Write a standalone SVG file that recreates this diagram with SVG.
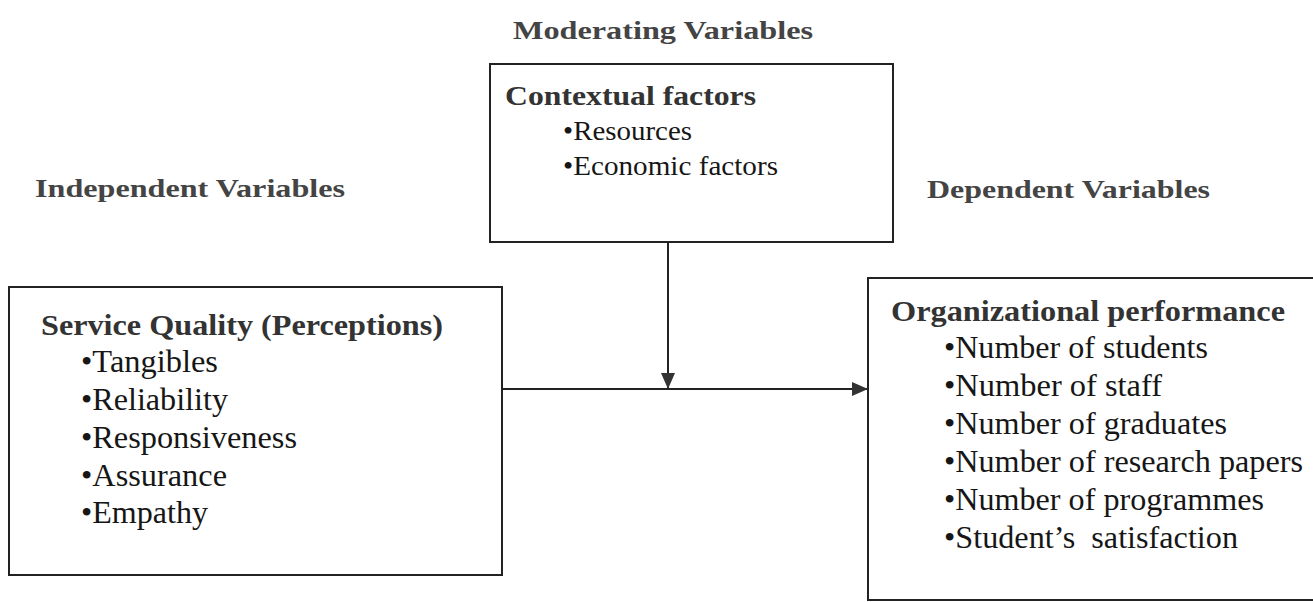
<svg xmlns="http://www.w3.org/2000/svg" width="1313" height="602" viewBox="0 0 1313 602">
  <style>
    .bg { fill: #ffffff; }
    .box { fill: none; stroke: #222; stroke-width: 2; }
    .head { font-family: "Liberation Serif", "Times New Roman", serif; font-weight: bold; fill: #444; font-size: 25px; }
    .title { font-family: "Liberation Serif", "Times New Roman", serif; font-weight: bold; fill: #333; font-size: 30px; }
    .title-s { font-family: "Liberation Serif", "Times New Roman", serif; font-weight: bold; fill: #333; font-size: 28px; }
    .item { font-family: "Liberation Serif", "Times New Roman", serif; fill: #161616; font-size: 31px; }
    .item-s { font-family: "Liberation Serif", "Times New Roman", serif; fill: #161616; font-size: 28px; }
    .conn { fill: none; stroke: #222; stroke-width: 2; }
  </style>
  <defs>
    <marker id="arrow" markerUnits="userSpaceOnUse" markerWidth="16" markerHeight="14" viewBox="0 0 16 14" refX="16" refY="7" orient="auto">
      <path d="M0,0 L16,7 L0,14 z" fill="#333"/>
    </marker>
  </defs>
  <rect class="bg" x="0" y="0" width="1313" height="602"/>

  <g id="heading-moderating">
    <text class="head" x="513" y="39" textLength="300" lengthAdjust="spacingAndGlyphs">Moderating Variables</text>
  </g>
  <g id="heading-independent">
    <text class="head" x="35" y="197" textLength="310" lengthAdjust="spacingAndGlyphs">Independent Variables</text>
  </g>
  <g id="heading-dependent">
    <text class="head" x="927" y="198" textLength="283" lengthAdjust="spacingAndGlyphs">Dependent Variables</text>
  </g>

  <g id="node-contextual">
    <rect class="box" x="490" y="64" width="403" height="178"/>
    <text class="title-s" x="505" y="105" textLength="251" lengthAdjust="spacingAndGlyphs">Contextual factors</text>
    <text class="item-s" x="563" y="140" textLength="129" lengthAdjust="spacingAndGlyphs">•Resources</text>
    <text class="item-s" x="563" y="175" textLength="215" lengthAdjust="spacingAndGlyphs">•Economic factors</text>
  </g>

  <g id="node-service-quality">
    <rect class="box" x="9" y="287" width="493" height="288"/>
    <text class="title" x="41" y="335" textLength="402" lengthAdjust="spacingAndGlyphs">Service Quality (Perceptions)</text>
    <text class="item" x="81" y="372" textLength="137" lengthAdjust="spacingAndGlyphs">•Tangibles</text>
    <text class="item" x="81" y="410" textLength="147" lengthAdjust="spacingAndGlyphs">•Reliability</text>
    <text class="item" x="81" y="448" textLength="216" lengthAdjust="spacingAndGlyphs">•Responsiveness</text>
    <text class="item" x="81" y="486" textLength="146" lengthAdjust="spacingAndGlyphs">•Assurance</text>
    <text class="item" x="81" y="523" textLength="127" lengthAdjust="spacingAndGlyphs">•Empathy</text>
  </g>

  <g id="node-organizational-performance">
    <rect class="box" x="868" y="278" width="460" height="322"/>
    <text class="title" x="891" y="321" textLength="394" lengthAdjust="spacingAndGlyphs">Organizational performance</text>
    <text class="item" x="944" y="358" textLength="264" lengthAdjust="spacingAndGlyphs">•Number of students</text>
    <text class="item" x="944" y="396" textLength="218" lengthAdjust="spacingAndGlyphs">•Number of staff</text>
    <text class="item" x="944" y="434" textLength="283" lengthAdjust="spacingAndGlyphs">•Number of graduates</text>
    <text class="item" x="944" y="472" textLength="359" lengthAdjust="spacingAndGlyphs">•Number of research papers</text>
    <text class="item" x="944" y="510" textLength="320" lengthAdjust="spacingAndGlyphs">•Number of programmes</text>
    <text class="item" x="944" y="548" textLength="294" lengthAdjust="spacingAndGlyphs" xml:space="preserve">•Student’s  satisfaction</text>
  </g>

  <g id="connectors">
    <line class="conn" x1="668" y1="242" x2="668" y2="389" marker-end="url(#arrow)"/>
    <line class="conn" x1="502" y1="389" x2="868" y2="389" marker-end="url(#arrow)"/>
  </g>
</svg>
